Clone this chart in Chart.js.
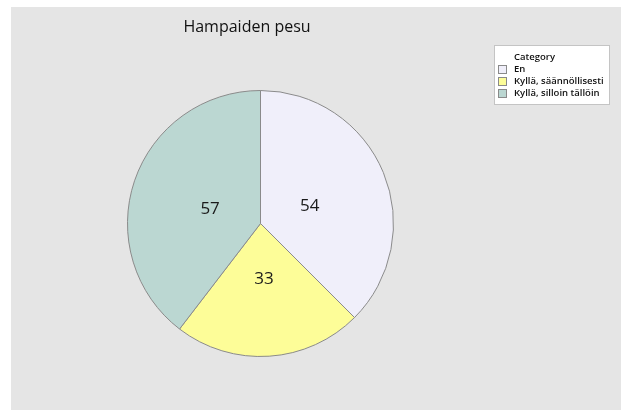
<!DOCTYPE html>
<html>
<head>
<meta charset="utf-8">
<script src="https://cdn.jsdelivr.net/npm/chart.js@4"></script>
<style>
    html, body { margin: 0; padding: 0; background: #fff; }
    #wrap { position: relative; width: 626px; height: 410px; }
    #panel { position: absolute; left: 11px; top: 7px; width: 610px; height: 403px; background: #e5e5e5; }
    #chart { position: absolute; left: 0; top: 0; }
</style>
</head>
<body>
<div id="wrap">
    <div id="panel"></div>
    <canvas id="chart" width="626" height="410"></canvas>
</div>
<script>
// Data
const chartTitle = 'Hampaiden pesu';
const legendTitle = 'Category';
const categories = ['En', 'Kyllä, säännöllisesti', 'Kyllä, silloin tällöin'];
const counts = [54, 33, 57];
const sliceColors = ['#f0effa', '#fdfd98', '#bbd7d2'];

const FONT = '"Open Sans", "Noto Sans", sans-serif';

// Numbers inside the slices
const sliceLabels = {
    id: 'sliceLabels',
    afterDatasetsDraw(chart) {
        const ctx = chart.ctx;
        const meta = chart.getDatasetMeta(0);
        const values = chart.data.datasets[0].data;
        ctx.save();
        ctx.font = '17px ' + FONT;
        ctx.fillStyle = '#1a1a1a';
        ctx.textAlign = 'center';
        ctx.textBaseline = 'middle';
        meta.data.forEach((arc, i) => {
            const p = arc.getProps(['x', 'y', 'startAngle', 'endAngle', 'outerRadius'], true);
            const mid = (p.startAngle + p.endAngle) / 2;
            const r = p.outerRadius * 0.4;
            // +3: digits sit a little high with a 'middle' baseline
            ctx.fillText(String(values[i]), p.x + Math.cos(mid) * r, p.y + Math.sin(mid) * r + 3);
        });
        ctx.restore();
    }
};

// Title and boxed legend, Minitab style
const titleAndLegend = {
    id: 'titleAndLegend',
    afterDraw(chart) {
        const ctx = chart.ctx;
        const ds = chart.data.datasets[0];
        ctx.save();

        ctx.font = '16px ' + FONT;
        ctx.fillStyle = '#111';
        ctx.textAlign = 'center';
        ctx.textBaseline = 'middle';
        ctx.fillText(chartTitle, 247, 27);

        const bx = 494, by = 45, bw = 116, bh = 60;
        ctx.fillStyle = '#fff';
        ctx.fillRect(bx, by, bw, bh);
        ctx.strokeStyle = '#c4c4c4';
        ctx.lineWidth = 1;
        ctx.strokeRect(bx + 0.5, by + 0.5, bw - 1, bh - 1);

        ctx.font = '600 9.5px ' + FONT;
        ctx.fillStyle = '#111';
        ctx.textAlign = 'left';
        ctx.fillText(legendTitle, 514, 57);
        chart.data.labels.forEach((label, i) => {
            const y = 69 + i * 12;
            ctx.fillStyle = ds.backgroundColor[i];
            ctx.fillRect(498, y - 4, 9, 9);
            ctx.strokeStyle = '#8a8a8a';
            ctx.strokeRect(498.5, y - 3.5, 8, 8);
            ctx.fillStyle = '#111';
            ctx.fillText(label, 514, y);
        });
        ctx.restore();
    }
};

new Chart(document.getElementById('chart').getContext('2d'), {
    type: 'pie',
    data: {
        labels: categories,
        datasets: [{
            data: counts,
            backgroundColor: sliceColors,
            borderColor: '#8a8a8a',
            borderWidth: 1
        }]
    },
    options: {
        responsive: false,
        animation: false,
        layout: { padding: { left: 127, right: 232, top: 90, bottom: 53 } },
        plugins: {
            legend: { display: false },
            title: { display: false },
            tooltip: { enabled: false }
        }
    },
    plugins: [sliceLabels, titleAndLegend]
});
</script>
</body>
</html>
